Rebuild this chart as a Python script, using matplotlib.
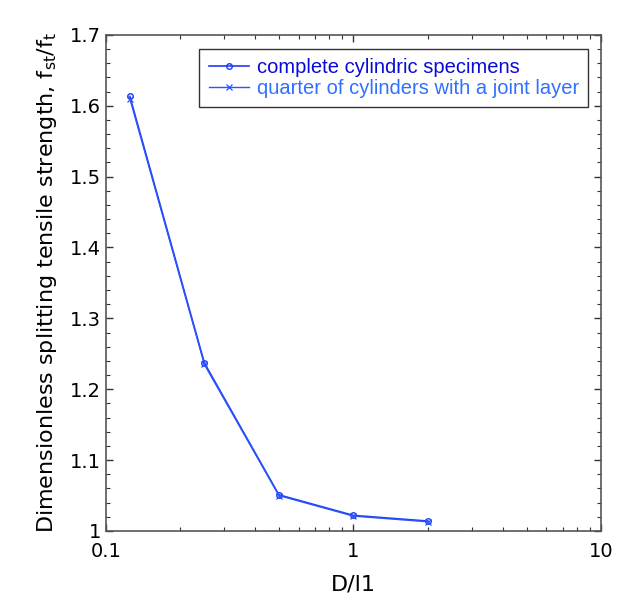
import matplotlib
matplotlib.use("Agg")
import matplotlib.pyplot as plt
from matplotlib.ticker import MultipleLocator, LogLocator, NullFormatter, FixedLocator

x = [0.125, 0.25, 0.5, 1, 2]
y_complete = [1.613, 1.237, 1.051, 1.022, 1.014]
y_quarter = [1.610, 1.235, 1.050, 1.021, 1.013]
labels = ["complete cylindric specimens", "quarter of cylinders with a joint layer"]

plt.rcParams['font.family'] = ['DejaVu Sans']
fig = plt.figure(figsize=(6.19, 6.0), dpi=100)
ax = fig.add_axes([0.171, 0.115, 0.80, 0.827])

ax.plot(x, y_complete, '-o', color='#1f3cf0', lw=1.2, ms=4, mfc='none', mew=1.0, label=labels[0])
ax.plot(x, y_quarter, '-x', color='#2a55ff', lw=1.0, ms=4, mew=0.9, label=labels[1])

ax.set_xscale('log')
ax.set_xlim(0.1, 10)
ax.set_ylim(1.0, 1.7)
ax.xaxis.set_major_locator(FixedLocator([0.1, 1, 10]))
ax.set_xticklabels(['0.1', '1', '10'])
ax.xaxis.set_minor_locator(LogLocator(base=10, subs=range(2, 10)))
ax.xaxis.set_minor_formatter(NullFormatter())
ax.yaxis.set_major_locator(MultipleLocator(0.1))
ax.yaxis.set_minor_locator(MultipleLocator(0.02))
ax.set_yticks([1.0, 1.1, 1.2, 1.3, 1.4, 1.5, 1.6, 1.7])
ax.set_yticklabels(['1', '1.1', '1.2', '1.3', '1.4', '1.5', '1.6', '1.7'])

ax.tick_params(which='both', direction='in', top=True, right=True, colors='#333333', labelcolor='black', labelsize=14)
ax.tick_params(which='major', length=5, width=1)
ax.tick_params(which='minor', length=3, width=0.8)
ax.tick_params(axis='x', pad=8)
for s in ax.spines.values():
    s.set_color('#555555')
    s.set_linewidth(1.2)

ax.set_xlabel('D/l1', fontsize=16, labelpad=10)
ax.set_ylabel(r'Dimensionless splitting tensile strength, f$\mathregular{_{st}}$/f$\mathregular{_{t}}$',
              fontsize=16, labelpad=8)

leg = ax.legend(loc='upper right', bbox_to_anchor=(0.974, 0.972), borderaxespad=0,
                prop={'family': 'Liberation Sans', 'size': 14.5}, frameon=True,
                fancybox=False, edgecolor='black', handlelength=2.0, borderpad=0.45,
                labelspacing=0.1, handletextpad=0.4)
leg.get_frame().set_linewidth(1.0)
texts = leg.get_texts()
texts[0].set_color('#0a0ad8')
texts[1].set_color('#3070ff')

fig.savefig('out.png', dpi=100)
